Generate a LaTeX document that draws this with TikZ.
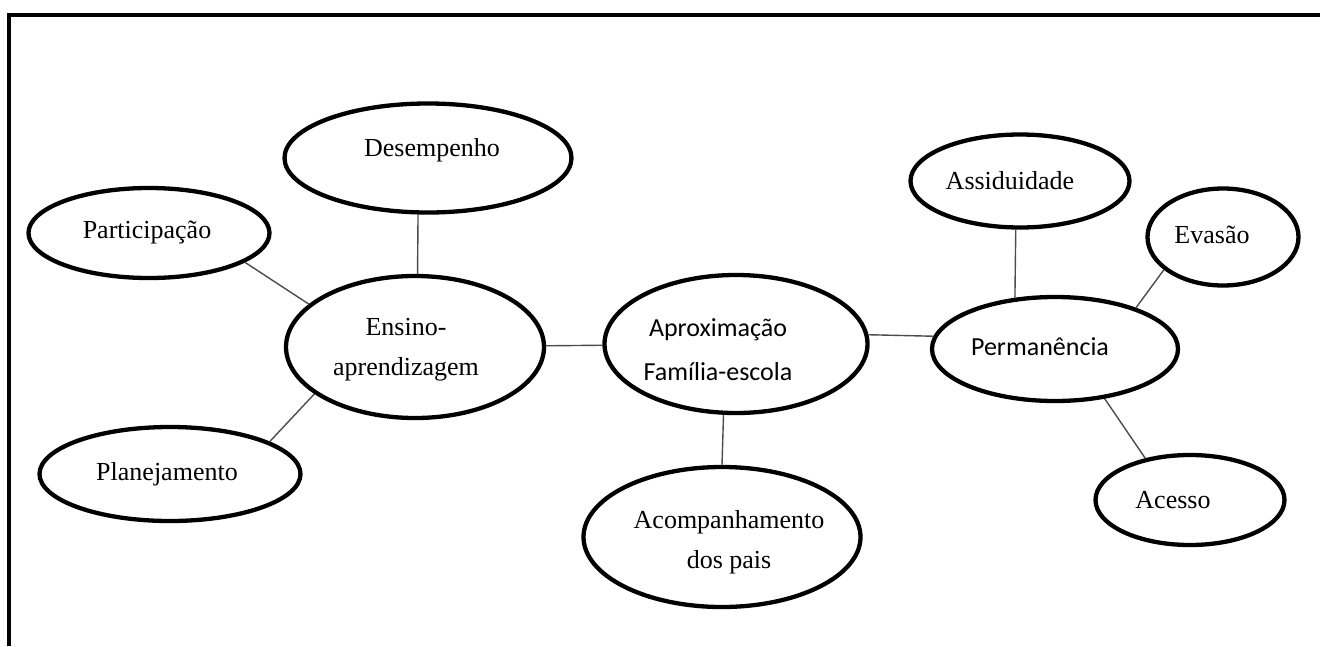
\documentclass[tikz,border=0pt]{standalone}
\usepackage{fontspec}
\setmainfont{Liberation Serif}
\newfontfamily\calibri{Carlito}
\usetikzlibrary{shapes.geometric}

\begin{document}
\begin{tikzpicture}[x=1pt, y=-1pt,
        bubble/.style={ellipse, draw, line width=4.3pt, inner sep=0pt},
        serif/.style={font=\fontsize{26}{40}\selectfont, align=center},
        sans/.style={font=\calibri\fontsize{26}{44}\selectfont, align=center},
        link/.style={black!70, line width=1.4pt}]
                \useasboundingbox (0,0) rectangle (1320,646);
                \draw [line width=4pt] (9,646)--(9,15)--(1322,15);
                % left branch
                \node [bubble, minimum width=287pt, minimum height=109pt, label={[serif, xshift=4pt, yshift=8pt]center:Desempenho}] (des) at (428,158) {};
                \node [bubble, minimum width=241pt, minimum height=90pt, label={[serif, xshift=-2pt]center:Participação}] (par) at (149,233) {};
                \node [bubble, minimum width=258pt, minimum height=142pt, label={[serif, xshift=-9pt, yshift=-3pt]center:Ensino-\\aprendizagem}] (ens) at (415,347) {};
                \node [bubble, minimum width=261pt, minimum height=94pt, label={[serif, xshift=-3pt]center:Planejamento}] (pla) at (170,474) {};
                % centre
                \node [bubble, minimum width=263pt, minimum height=138pt, label={[sans, xshift=-18pt, yshift=-6pt]center:Aproximação\\Família-escola}] (apr) at (736,344) {};
                \node [bubble, minimum width=277pt, minimum height=140pt, label={[serif, xshift=7pt, yshift=-5pt]center:Acompanhamento\\dos pais}] (aco) at (722,537) {};
                % right branch
                \node [bubble, minimum width=219pt, minimum height=93pt, label={[serif, xshift=-10pt]center:Assiduidade}] (asd) at (1020,181) {};
                \node [bubble, minimum width=151pt, minimum height=97pt, label={[serif, xshift=-11pt, yshift=2pt]center:Evasão}] (eva) at (1223,237) {};
                \node [bubble, minimum width=246pt, minimum height=104pt, label={[sans, xshift=-15pt, yshift=2pt]center:Permanência}] (per) at (1055,349) {};
                \node [bubble, minimum width=189pt, minimum height=90pt, label={[serif, xshift=-17pt]center:Acesso}] (acs) at (1190,500) {};
                \draw [link] (par.-17)--(ens.158);
                \draw [link] (des.260)--(ens.88);
                \draw [link] (pla.18)--(ens.205);
                \draw [link] (ens)--(apr);
                \draw [link] (apr.4)--(per.174);
                \draw [link] (apr.260)--(aco.north);
                \draw [link] (asd.265)--(per.128);
                \draw [link] (eva.209)--(per.27);
                \draw [link] (per.-45)--(acs.137);
            \end{tikzpicture}
\end{document}
